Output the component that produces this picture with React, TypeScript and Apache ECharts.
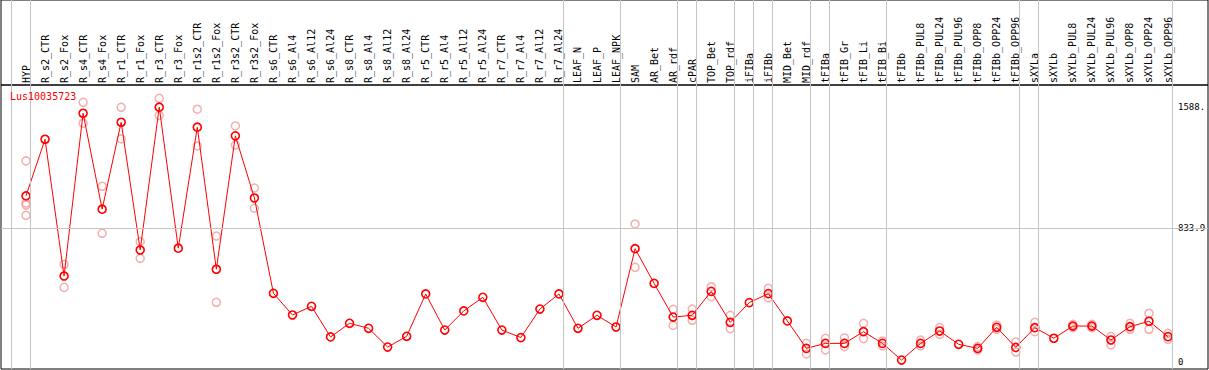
import React, { useEffect, useRef } from "react";
import * as echarts from "echarts";

const categories = [
  "HYP", "R_s2_CTR", "R_s2_Fox", "R_s4_CTR", "R_s4_Fox", "R_r1_CTR", "R_r1_Fox", "R_r3_CTR", "R_r3_Fox",
  "R_r1s2_CTR", "R_r1s2_Fox", "R_r3s2_CTR", "R_r3s2_Fox", "R_s6_CTR", "R_s6_Al4", "R_s6_Al12", "R_s6_Al24",
  "R_s8_CTR", "R_s8_Al4", "R_s8_Al12", "R_s8_Al24", "R_r5_CTR", "R_r5_Al4", "R_r5_Al12", "R_r5_Al24",
  "R_r7_CTR", "R_r7_Al4", "R_r7_Al12", "R_r7_Al24", "LEAF_N", "LEAF_P", "LEAF_NPK", "SAM", "AR_Bet", "AR_rdf",
  "cPAR", "TOP_Bet", "TOP_rdf", "iFIBa", "iFIBb", "MID_Bet", "MID_rdf", "tFIBa", "tFIB_Gr", "tFIB_Li", "tFIB_Bi",
  "tFIBb", "tFIBb_PUL8", "tFIBb_PUL24", "tFIBb_PUL96", "tFIBb_OPP8", "tFIBb_OPP24", "tFIBb_OPP96",
  "sXYLa", "sXYLb", "sXYLb_PUL8", "sXYLb_PUL24", "sXYLb_PUL96", "sXYLb_OPP8", "sXYLb_OPP24", "sXYLb_OPP96",
];

const means = [
  1035, 1388, 536, 1550, 952, 1494, 698, 1588, 709,
  1463, 578, 1409, 1022, 428, 293, 347, 156,
  241, 210, 93, 160, 424, 199, 318, 403,
  199, 152, 330, 424, 210, 291, 218, 706, 490, 280,
  291, 440, 247, 370, 426, 256, 85, 116, 116, 189, 116,
  12, 116, 193, 110, 85, 216, 91,
  214, 148, 224, 224, 137, 220, 254, 158,
];

const replicates: number[][] = [
  [1253, 991, 978, 914], [], [609, 465], [1618, 1488], [1095, 802], [1587, 1390], [750, 646], [1643, 1537], [],
  [1575, 1346], [785, 372], [1471, 1352], [1084, 958], [], [], [], [],
  [], [], [], [], [], [], [], [],
  [], [], [], [], [], [], [], [860, 590], [], [328, 228],
  [330, 260], [469, 407], [291, 208], [], [459, 399], [], [116, 50], [148, 75], [150, 96], [241, 145], [131, 100],
  [], [137, 100], [214, 172], [], [96, 75], [231, 204], [125, 62],
  [247, 189], [], [235, 214], [235, 214], [158, 106], [241, 204], [304, 204], [179, 141],
];

// indices after which a gray group separator is drawn
const groupBreaks = [-1, 0, 28, 31, 34, 35, 37, 38, 39, 41, 42, 45, 52, 53, 60];

const yTickValues = [0, 833.9, 1588];
const yTickLabels = ["0", "833.9", "1588."];
const geneName = "Lus10035723";

const X_MIN = -1.3135;
const X_MAX = 62.1;
const Y_MIN = -43.6;
const Y_MAX = 1726;
const FONT = "DejaVu Sans Mono";

export default function App() {
  const ref = useRef<HTMLDivElement>(null);
  useEffect(() => {
    if (!ref.current) return;
    const chart = echarts.init(ref.current, undefined, { renderer: "svg" });
    const sepLines = groupBreaks.map((b) => ({ xAxis: b + 0.2 }));
    const sepMark = {
      silent: true,
      symbol: ["none", "none"],
      label: { show: false },
      lineStyle: { color: "#c4c4c4", type: "solid", width: 1 },
      emphasis: { disabled: true },
      data: sepLines,
    };
    const repData: number[][] = [];
    replicates.forEach((reps, i) => reps.forEach((v) => repData.push([i, v])));
    chart.setOption({
      animation: false,
      backgroundColor: "#fff",
      title: {
        text: geneName,
        left: 10,
        top: 91,
        padding: 0,
        textStyle: { color: "#ff0000", fontSize: 10, fontWeight: "normal", fontFamily: FONT },
      },
      grid: [
        { left: 1, top: 0, width: 1207, height: 85, show: true, borderColor: "#000", borderWidth: 1, backgroundColor: "transparent" },
        { left: 1, top: 85, width: 1207, height: 284, show: true, borderColor: "#000", borderWidth: 1, backgroundColor: "transparent" },
      ],
      xAxis: [
        {
          type: "value", gridIndex: 0, min: X_MIN, max: X_MAX, position: "bottom",
          axisLine: { show: false }, axisTick: { show: false }, splitLine: { show: false },
          axisLabel: {
            inside: true, rotate: 90, margin: 2,
            customValues: categories.map((_, i) => i),
            formatter: (v: number) => categories[Math.round(v)] ?? "",
            color: "#000", fontSize: 10, fontFamily: FONT,
          },
        },
        {
          type: "value", gridIndex: 1, min: X_MIN, max: X_MAX,
          axisLine: { show: false }, axisTick: { show: false }, splitLine: { show: false },
          axisLabel: { show: false },
        },
      ],
      yAxis: [
        { type: "value", gridIndex: 0, min: 0, max: 1, show: false, splitLine: { show: false } },
        {
          type: "value", gridIndex: 1, min: Y_MIN, max: Y_MAX, position: "right",
          axisLine: { show: false }, axisTick: { show: false }, splitLine: { show: false },
          axisLabel: {
            inside: true, margin: 30, align: "left",
            customValues: yTickValues,
            formatter: (v: number) => {
              const idx = yTickValues.findIndex((t) => Math.abs(t - v) < 1e-6);
              return idx >= 0 ? yTickLabels[idx] : "";
            },
            color: "#000", fontSize: 9, fontFamily: FONT,
          },
        },
      ],
      series: [
        {
          type: "line", xAxisIndex: 0, yAxisIndex: 0, data: [], silent: true,
          markLine: sepMark,
        },
        {
          type: "line", xAxisIndex: 1, yAxisIndex: 1, data: [], silent: true,
          markLine: { ...sepMark, data: [...sepLines, { yAxis: yTickValues[1] }] },
        },
        {
          type: "scatter", xAxisIndex: 1, yAxisIndex: 1, data: repData, silent: true,
          symbol: "circle", symbolSize: 8, z: 3,
          itemStyle: { color: "rgba(0,0,0,0)", borderColor: "#f09c9c", borderWidth: 1.5 },
        },
        {
          type: "line", xAxisIndex: 1, yAxisIndex: 1, silent: true, z: 4,
          data: means.map((v, i) => [i, v]),
          symbol: "circle", symbolSize: 8, showAllSymbol: true,
          lineStyle: { color: "#ff0000", width: 1 },
          itemStyle: { color: "rgba(0,0,0,0)", borderColor: "#ff0000", borderWidth: 1.6 },
        },
      ],
    });
    return () => chart.dispose();
  }, []);
  return <div ref={ref} style={{ width: 1209, height: 370, position: "absolute", left: 0, top: 0 }} />;
}
